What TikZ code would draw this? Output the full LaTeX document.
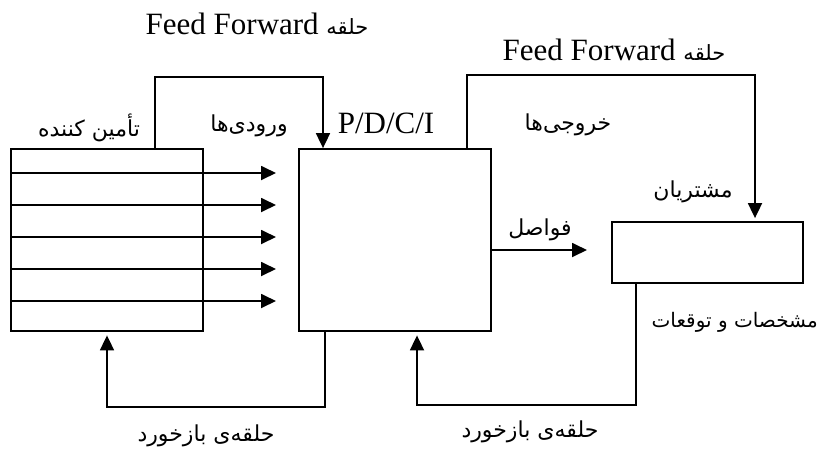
\documentclass[tikz,border=0pt]{standalone}
\usepackage{fontspec}
\setmainfont{Liberation Serif}
\newfontfamily\fa[Script=Arabic]{DejaVu Sans}
\TeXXeTstate=1
\usetikzlibrary{arrows.meta}
\newcommand\fatext[1]{{\fa\beginR #1\endR}}
\begin{document}
\begin{tikzpicture}[x=1pt,y=-1pt,
  box/.style={draw, line width=1.8pt, inner sep=0pt},
  conn/.style={line width=1.8pt},
  arr/.style={conn, -{Triangle[length=15pt,width=14pt]}},
  latin/.style={font=\fontsize{31}{36}\selectfont, inner sep=0pt},
  persian/.style={font=\fontsize{22}{26}\selectfont\fa, inner sep=0pt}]
\useasboundingbox (0,0) rectangle (819,448);

% blocks
\node[box, minimum width=192pt, minimum height=182pt] (sup) at (107,240) {};
\node[box, minimum width=192pt, minimum height=182pt] (proc) at (395,240) {};
\node[box, minimum width=191pt, minimum height=61pt] (cust) at (707.5,252.5) {};

% inputs crossing the supplier block
\foreach \yy/\nm in {173/a,205/b,237/c,269/d,301/e}{
  \coordinate (in\nm) at (276,\yy);
  \draw[arr] (sup.west |- in\nm) -- (in\nm);
}

% outputs towards the customers
\coordinate (outtip) at (587,250);
\draw[arr] (proc.east |- outtip) -- (outtip);

% feed-forward loops
\coordinate (ffa) at (155,77);
\coordinate (ffb) at (323,77);
\draw[arr] (sup.north -| ffa) -- (ffa) -- (ffb) -- (proc.north -| ffb);
\coordinate (ffc) at (467,75);
\coordinate (ffd) at (755,75);
\draw[arr, shorten >=3pt] (proc.north -| ffc) -- (ffc) -- (ffd) -- (cust.north -| ffd);

% feedback loops
\coordinate (fba) at (325,407);
\coordinate (fbb) at (107,407);
\draw[arr, shorten >=3.5pt] (proc.south -| fba) -- (fba) -- (fbb) -- (sup.south -| fbb);
\coordinate (fbc) at (636,405);
\coordinate (fbd) at (417,405);
\draw[arr, shorten >=3.5pt] (cust.south -| fbc) -- (fbc) -- (fbd) -- (proc.south -| fbd);

% labels
\node[latin, anchor=base] (ffl1) at (257,34) {Feed Forward \fatext{\fontsize{21}{26}\selectfont حلقه}};
\node[latin, anchor=base] (ffl2) at (614,60) {Feed Forward \fatext{\fontsize{21}{26}\selectfont حلقه}};
\node[latin] (pdci) at (386,123) {P/D/C/I};
\node[persian] (lsup) at (89,128) {\beginR تأمین کننده\endR};
\node[persian] (lin) at (249,126) {\beginR ورودی‌ها\endR};
\node[persian] (lout) at (568,125) {\beginR خروجی‌ها\endR};
\node[persian] (lcust) at (693,192) {\beginR مشتریان\endR};
\node[persian] (lgap) at (540,230) {\beginR فواصل\endR};
\node[persian, font=\fontsize{20}{24}\selectfont\fa, anchor=east] (lspec) at (818,322) {\beginR مشخصات و توقعات\endR};
\node[persian] (lfb1) at (206,436) {\beginR حلقه‌ی بازخورد\endR};
\node[persian] (lfb2) at (530,432) {\beginR حلقه‌ی بازخورد\endR};
\end{tikzpicture}
\end{document}
